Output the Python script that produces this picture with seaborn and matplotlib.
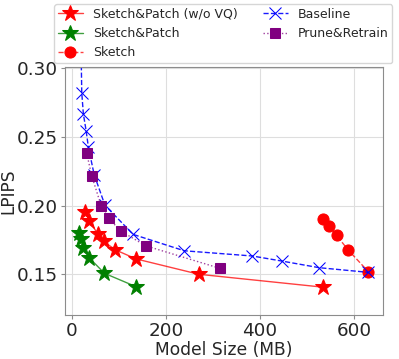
import numpy as np
import pandas as pd
import matplotlib
matplotlib.use("Agg")
import matplotlib.pyplot as plt
import seaborn as sns

# data (model size in MB, LPIPS)
sp_novq_size = [28, 37, 55, 67, 92, 136, 270, 535]
sp_novq_lpips = [0.1954, 0.1888, 0.1792, 0.1740, 0.1678, 0.1612, 0.1500, 0.1406]

sp_size = [15, 18.5, 23, 37, 69, 136]
sp_lpips = [0.1797, 0.1760, 0.1690, 0.1618, 0.1507, 0.1410]

sketch_size = [535, 547, 563, 588, 631]
sketch_lpips = [0.1899, 0.1850, 0.1783, 0.1676, 0.1518]

base_size = [17, 20.6, 24, 29.8, 34.7, 47, 70, 130, 239, 384, 447, 526, 631]
base_lpips = [0.36, 0.2820, 0.2667, 0.2546, 0.2425, 0.2225, 0.2002, 0.1790,
              0.1671, 0.1633, 0.1596, 0.1548, 0.1514]

pr_size = [31, 42, 62, 78, 104, 157, 315]
pr_lpips = [0.2381, 0.2215, 0.1997, 0.1906, 0.1814, 0.1707, 0.1543]

sns.set_style("whitegrid", {"axes.edgecolor": "0.55", "grid.color": "0.87",
                            "xtick.bottom": True, "ytick.left": True})

fig = plt.figure(figsize=(3.99, 3.59), dpi=100)
ax = fig.add_axes([0.163, 0.123, 0.797, 0.690])

def draw(x, y, label, color, ls, marker, ms, lw=1.0, alpha=0.75):
    line_color = matplotlib.colors.to_rgba(color, alpha)
    d = pd.DataFrame({"x": x, "y": y})
    sns.lineplot(data=d, x="x", y="y", ax=ax, sort=False, estimator=None,
                 label=label, color=line_color, linestyle=ls, linewidth=lw,
                 marker=marker, markersize=ms, markerfacecolor=color,
                 markeredgecolor=color)

draw(sp_novq_size, sp_novq_lpips, "Sketch&Patch (w/o VQ)", "red", "-", "*", 12)
draw(sp_size, sp_lpips, "Sketch&Patch", "green", "-", "*", 12)
draw(sketch_size, sketch_lpips, "Sketch", "red", "--", "o", 8)
draw(base_size, base_lpips, "Baseline", "blue", "--", "x", 8, alpha=0.9)
draw(pr_size, pr_lpips, "Prune&Retrain", "purple", ":", "s", 7)

ax.set_xlim(-15, 662)
ax.set_ylim(0.1205, 0.3007)
ax.set_xticks([0, 200, 400, 600])
ax.set_yticks([0.15, 0.20, 0.25, 0.30])
ax.tick_params(labelsize=13.2, length=3, color="0.55", pad=2)
ax.set_xlabel("Model Size (MB)", fontsize=12.3, labelpad=1)
ax.set_ylabel("LPIPS", fontsize=12.3)
ax.yaxis.set_label_coords(-0.15, 0.5)

handles, labels = ax.get_legend_handles_labels()
ax.get_legend().remove()
fig.legend(handles, labels, loc="upper left",
           bbox_to_anchor=(54 / 399, 1 - 4 / 359), ncol=2,
           fontsize=9, frameon=True, borderaxespad=0, borderpad=0.3)

fig.savefig("out.png", dpi=100)
